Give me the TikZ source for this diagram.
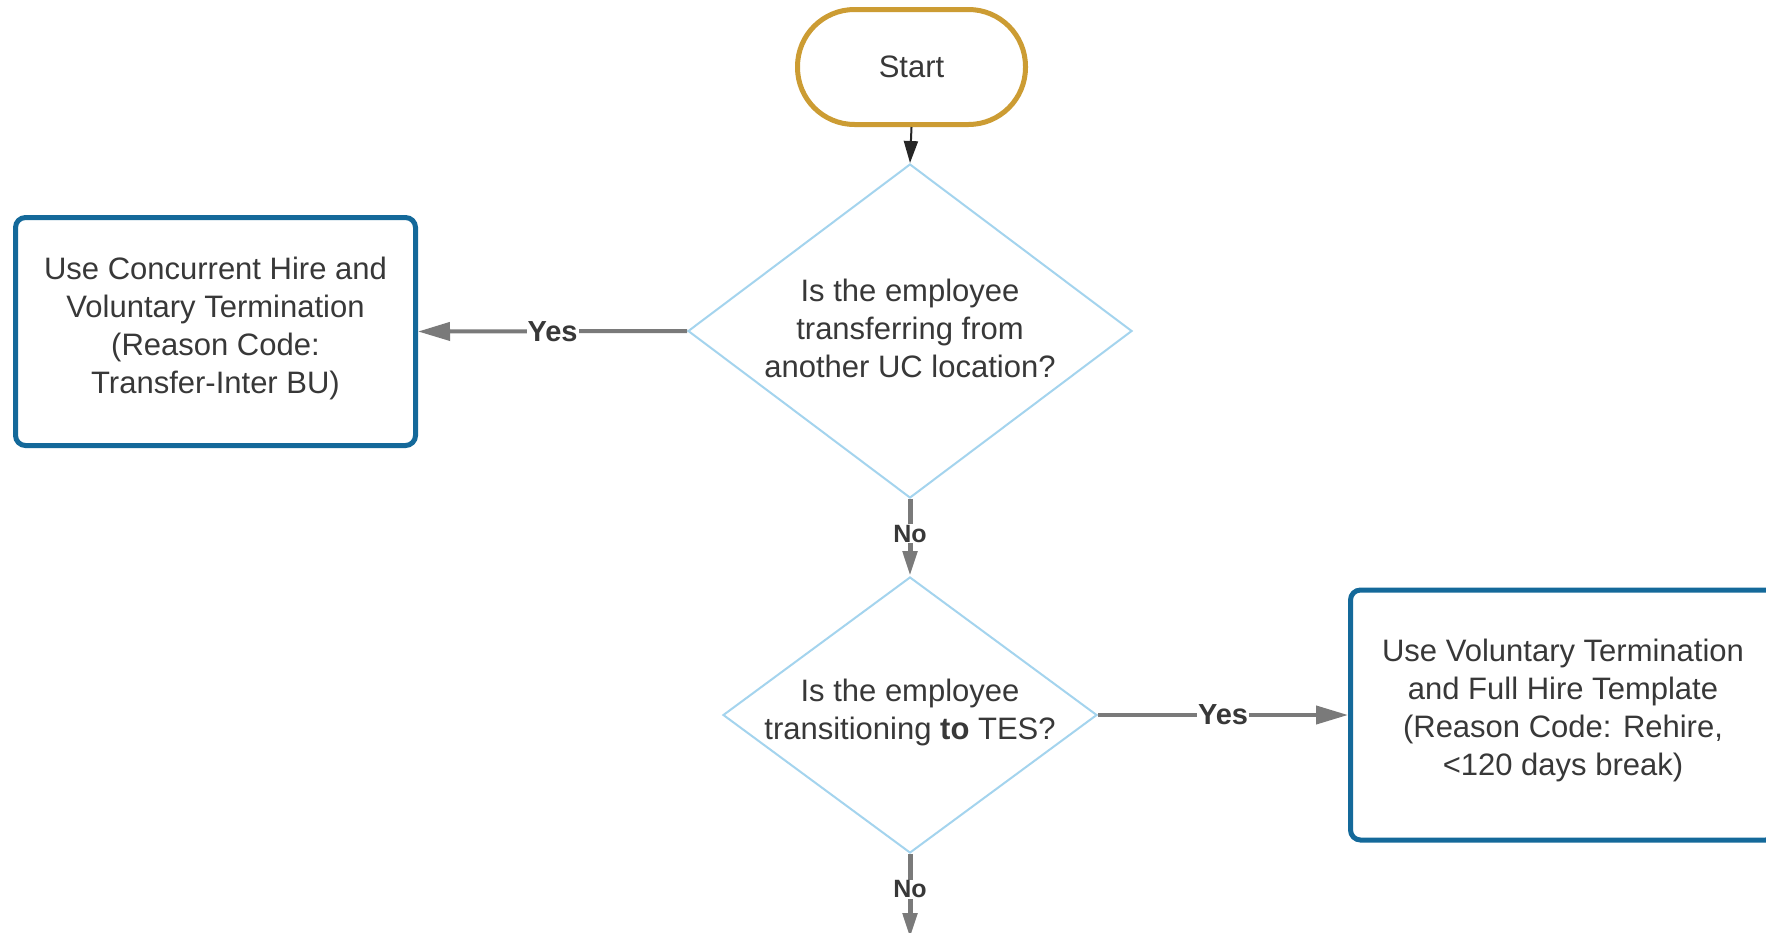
\documentclass[tikz,border=0pt]{standalone}
\usepackage{fontspec}
\setmainfont{Liberation Sans}
\usetikzlibrary{shapes.geometric,arrows.meta}
\definecolor{gold}{HTML}{CC9C33}
\definecolor{boxblue}{HTML}{14699A}
\definecolor{dblue}{HTML}{A4D4EE}
\definecolor{txtgray}{HTML}{383838}
\definecolor{arrgray}{HTML}{7A7A7A}
\tikzset{
 startbox/.style={draw=gold, line width=5pt, rounded corners=57pt, minimum width=228pt, minimum height=115pt, inner sep=0pt, text=txtgray, font=\fontsize{31}{38}\selectfont},
 actbox/.style={draw=boxblue, line width=5pt, rounded corners=10pt, inner sep=0pt, text=txtgray, align=center, font=\fontsize{31}{38}\selectfont},
 decision/.style={draw=dblue, line width=2pt, diamond, inner sep=0pt},
 dtext/.style={text=txtgray, align=center, inner sep=0pt, font=\fontsize{31}{38}\selectfont},
 yesarrow/.style={draw=arrgray, line width=4pt, -{Triangle[length=32pt,width=18pt]}},
 noarrow/.style={draw=arrgray, line width=5pt, -{Triangle[length=25pt,width=14pt]}},
 startarrow/.style={draw=black!85, line width=2pt, -{Triangle[length=22pt,width=14pt]}},
 yeslbl/.style={fill=white, inner sep=1pt, text=txtgray, font=\bfseries\fontsize{29}{30}\selectfont},
 nolbl/.style={fill=white, inner sep=1pt, text=txtgray, font=\bfseries\fontsize{25}{26}\selectfont},
}
\begin{document}
\begin{tikzpicture}[x=1pt,y=-1pt]
\clip (0,0) rectangle (1766,932);
\fill[white] (0,0) rectangle (1766,932);

\node[startbox] (start) at (911.5,67) {Start};

\node[decision, minimum width=444pt, minimum height=334pt] (d1) at (910,331) {};
\node[dtext] (t1) at (910,328) {Is the employee\\transferring from\\another UC location?};

\node[actbox, minimum width=400pt, minimum height=228pt] (b1) at (215.5,331.5) {};
\node[dtext] (bt1) at (215.5,328) {Use Concurrent Hire and\\Voluntary Termination\\(Reason Code:\\Transfer-Inter BU)};

\node[decision, minimum width=374pt, minimum height=276pt] (d2) at (910,715) {};
\node[dtext] (t2) at (910,712) {Is the employee\\transitioning \textbf{to} TES?};

\node[actbox, minimum width=425pt, minimum height=250pt] (b2) at (1563,715) {};
\node[dtext] (bt2) at (1563,710) {Use Voluntary Termination\\and Full Hire Template\\(Reason Code: Rehire,\\<120 days break)};

\coordinate (end) at (910,938);

\draw[startarrow] (start.south) -- (d1.north);
\draw[yesarrow] (d1.west) -- node[yeslbl] {Yes} (b1.east);
\draw[noarrow] (d1.south) -- node[nolbl, pos=0.45] {No} (d2.north);
\draw[yesarrow] (d2.east) -- node[yeslbl] {Yes} (b2.west);
\draw[noarrow] (d2.south) -- node[nolbl, pos=0.42] {No} (end);
\end{tikzpicture}
\end{document}
